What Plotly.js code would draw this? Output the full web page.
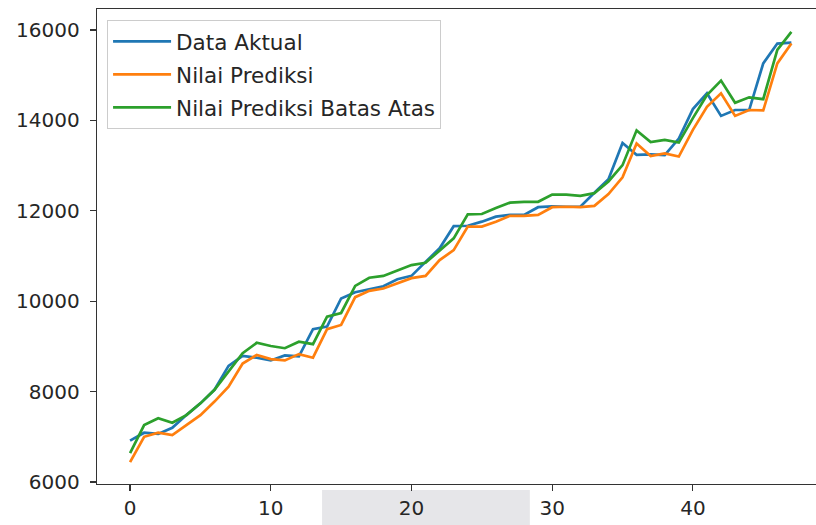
<!DOCTYPE html>
<html>
<head>
<meta charset="utf-8">
<script src="https://cdn.plot.ly/plotly-3.0.1.min.js"></script>
<style>html,body{margin:0;padding:0;background:#fff;}#chart{width:816px;height:525px;}</style>
</head>
<body>
<div id="chart"></div>
<script>
const xIndex = [0,1,2,3,4,5,6,7,8,9,10,11,12,13,14,15,16,17,18,19,20,21,22,23,24,25,26,27,28,29,30,31,32,33,34,35,36,37,38,39,40,41,42,43,44,45,46,47];
const dataAktual = [6915,7090,7065,7200,7480,7740,8040,8570,8790,8750,8690,8800,8780,9380,9440,10060,10200,10260,10330,10485,10560,10870,11170,11660,11670,11760,11870,11910,11910,12080,12100,12090,12090,12400,12700,13500,13240,13250,13230,13600,14250,14600,14100,14230,14230,15260,15700,15720];
const nilaiPrediksi = [6440,7000,7090,7040,7260,7480,7780,8110,8620,8810,8720,8690,8830,8750,9380,9475,10090,10230,10280,10400,10510,10560,10910,11130,11650,11650,11760,11890,11890,11910,12080,12090,12080,12110,12370,12740,13490,13210,13270,13200,13790,14300,14600,14100,14230,14220,15260,15700];
const prediksiBatasAtas = [6640,7260,7410,7310,7480,7740,8040,8440,8850,9080,9010,8960,9105,9050,9660,9740,10340,10520,10560,10680,10800,10850,11130,11390,11920,11930,12060,12180,12200,12200,12360,12360,12330,12390,12650,13010,13780,13520,13570,13510,14050,14560,14880,14390,14510,14470,15560,15960];
const seriesNames = ["Data Aktual","Nilai Prediksi","Nilai Prediksi Batas Atas"];
const xTicks = [0,10,20,30,40];
const yTicks = [6000,8000,10000,12000,14000,16000];

const colors = ["#1f77b4","#ff7f0e","#2ca02c"];
const ys = [dataAktual, nilaiPrediksi, prediksiBatasAtas];
const traces = ys.map((y,k)=>({
  x: xIndex, y: y, type: "scatter", mode: "lines", name: seriesNames[k],
  legendgroup: "g"+k,
  line: {color: colors[k], width: 2.7}
}));

const tickFont = {family: "DejaVu Sans, sans-serif", size: 20, color: "#262626"};
const layout = {
  width: 816, height: 525,
  margin: {l: 97, r: 0, t: 9, b: 41},
  paper_bgcolor: "#fff", plot_bgcolor: "#fff",
  showlegend: true,
  xaxis: {
    range: [-2.35, 48.75], tickvals: xTicks, ticktext: xTicks.map(String),
    showgrid: false, zeroline: false, showline: true, mirror: true,
    linecolor: "#333", linewidth: 1.3, ticks: "outside", ticklen: 6, tickwidth: 1.2, tickcolor: "#333",
    tickfont: tickFont
  },
  yaxis: {
    range: [5956, 16465], tickvals: yTicks, ticktext: yTicks.map(String),
    showgrid: false, zeroline: false, showline: true, mirror: false,
    linecolor: "#333", linewidth: 1.3, ticks: "outside", ticklen: 6, tickwidth: 1.2, tickcolor: "#333",
    tickfont: tickFont, ticklabelstandoff: 6
  },
  legend: {
    x: 0.014, y: 0.977, xanchor: "left", yanchor: "top",
    bgcolor: "rgba(255,255,255,0.85)", bordercolor: "#cccccc", borderwidth: 1,
    font: {family: "DejaVu Sans, sans-serif", size: 21.5, color: "#262626"},
    tracegroupgap: 2, traceorder: "grouped", itemwidth: 58
  },
  shapes: [{
    type: "rect", xref: "paper", yref: "paper", layer: "below",
    x0: 0.313, x1: 0.602, y0: -0.09, y1: -0.0126,
    fillcolor: "#e6e6e9", line: {width: 0}
  }]
};
Plotly.newPlot("chart", traces, layout, {staticPlot: true, displayModeBar: false});
</script>
</body>
</html>
